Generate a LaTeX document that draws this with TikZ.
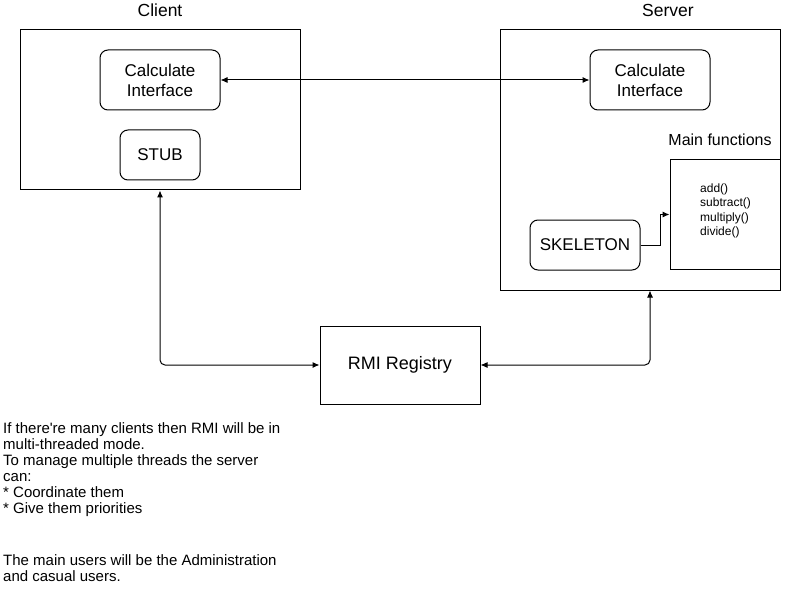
\documentclass[tikz,border=0pt]{standalone}
\usepackage{fontspec}
\setmainfont{Liberation Sans}
\usepackage{tikz}
\usetikzlibrary{positioning,arrows.meta}
\usepackage{xcolor}

\tikzset{
	part/.style={draw=black, line width=1pt, inner sep=0pt, font=\fontsize{17}{20}\selectfont, align=center},
	partround/.style={part, rounded corners=8pt},
	title/.style={inner sep=0pt, font=\fontsize{17.5}{20}\selectfont},
	note/.style={inner sep=0pt, anchor=north west, align=left, font=\fontsize{15}{16}\selectfont},
	link/.style={line width=1pt, rounded corners=5pt}
}

\begin{document}
\begin{tikzpicture}[x=1pt, y=-1pt, >={Latex[length=7pt,width=6pt]}]
	\useasboundingbox [fill=white] (0,0) rectangle (801,615);
	% client side
	\node [part, minimum width=280pt, minimum height=160pt] (cliBox) at (160,110) {};
	\node [title] (cliTitle) at (160,10) {Client};
	\node [partround, minimum width=120pt, minimum height=60pt] (cliCalc) at (160,80) {Calculate\\Interface};
	\node [partround, minimum width=80pt, minimum height=50pt] (stub) at (160,155) {STUB};
	% server side
	\node [part, minimum width=280pt, minimum height=260pt] (srvBox) at (640,160) {};
	\node [title] (srvTitle) at (668,10) {Server};
	\node [partround, minimum width=120pt, minimum height=60pt] (srvCalc) at (650,80) {Calculate\\Interface};
	\node [title, font=\fontsize{16}{19}\selectfont] (funcTitle) at (720,140) {Main functions};
	\node [part, minimum width=110pt, minimum height=109pt] (funcs) at (725,214.5) {};
	\node [inner sep=0pt, anchor=north west, align=left, font=\fontsize{12}{14.5}\selectfont] (funcList) at (700,183.5) {add()\\subtract()\\multiply()\\divide()};
	\node [partround, minimum width=110pt, minimum height=50pt] (skel) at (585,245) {SKELETON};
	% registry
	\node [part, font=\fontsize{18}{21}\selectfont, minimum width=160pt, minimum height=78pt] (rmi) at (400,365) {RMI Registry};
	% connectors
	\draw [link, <->] (cliCalc.east)--(srvCalc.west);
	\draw [link, <->] (cliBox.south)|-(rmi.west);
	\draw [link, <->] (rmi.east)-|([xshift=10pt]srvBox.south);
	\draw [line width=1pt, ->] (skel.east)--++(20,0)|-(funcs.west);
	% notes
	\node [note] (noteA) at (3,422) {If there\textquotesingle re many clients then RMI will be in\\multi-threaded mode.\\To manage multiple threads the server\\can:\\* Coordinate them\\* Give them priorities};
	\node [note] (noteB) at (3,554) {The main users will be the Administration\\and casual users.};
\end{tikzpicture}
\end{document}
